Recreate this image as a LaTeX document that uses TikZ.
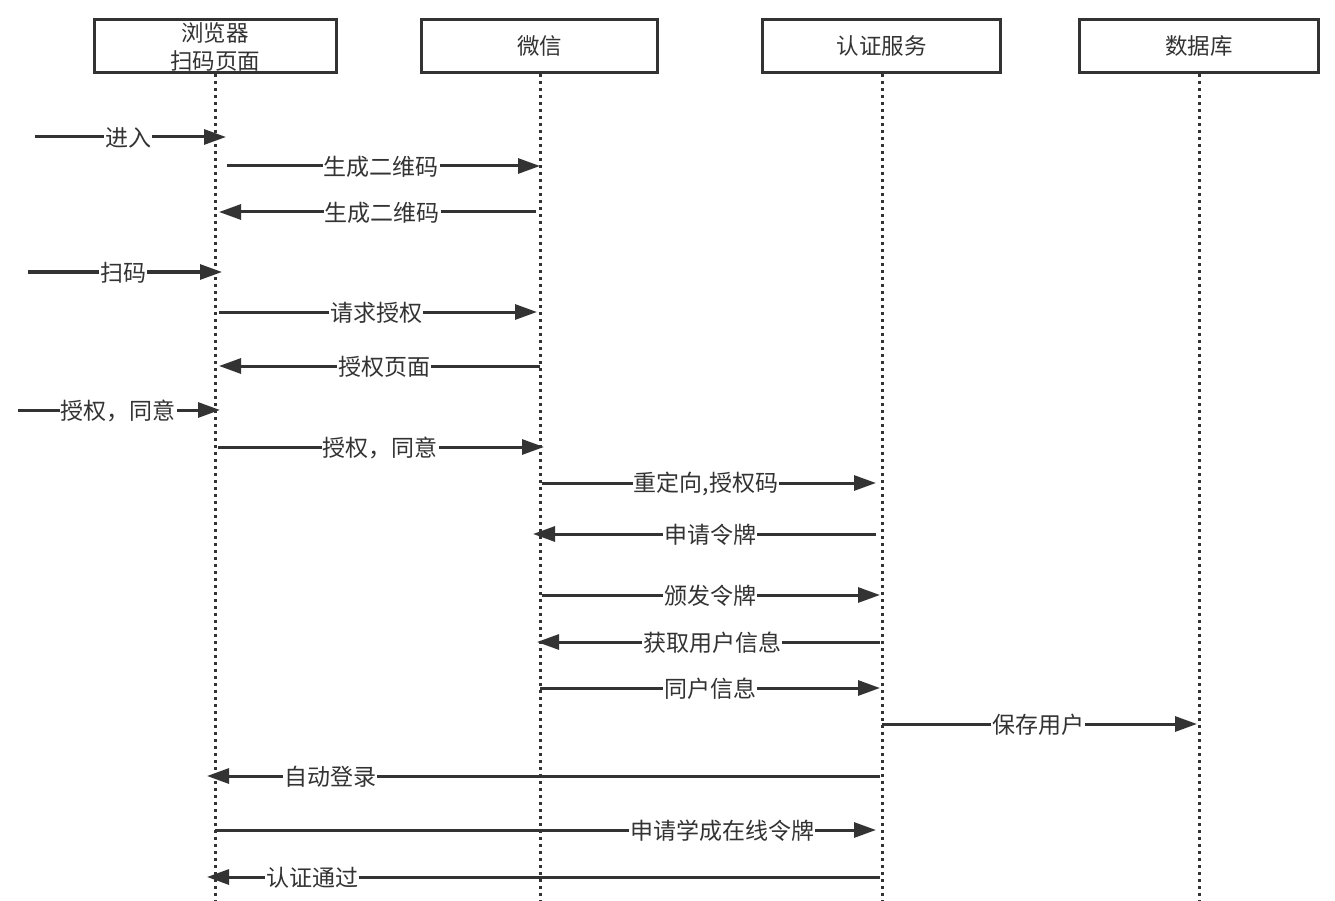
\documentclass[tikz,border=0pt]{standalone}
\usepackage{fontspec}
\setmainfont{Noto Sans CJK SC}
\usetikzlibrary{arrows.meta}
\definecolor{ink}{HTML}{333333}
\tikzset{
  actor/.style={draw=ink, line width=3pt, minimum height=53pt, inner sep=0pt, font=\fontsize{22.5}{27}\selectfont, text=ink, align=center},
  life/.style={draw=ink, line width=3pt, dash pattern=on 3pt off 4pt},
  msg/.style={draw=ink, line width=3pt, -{Triangle[length=22pt,width=15pt]}},
  lbl/.style={fill=white, text=ink, inner sep=1pt, font=\fontsize{23}{26}\selectfont}
}
\begin{document}
\begin{tikzpicture}[x=1pt,y=-1pt]
\useasboundingbox (0,0) rectangle (1335,901);
% actors
\node[actor, minimum width=242pt] (A) at (215.5,46) {\strut};
\node[text=ink, font=\fontsize{22.5}{28}\selectfont, align=center] (At) at (215,47) {浏览器\\扫码页面};
\node[actor, minimum width=236pt] (B) at (539.5,46) {微信};
\node[actor, minimum width=238pt] (C) at (881.5,46) {认证服务};
\node[actor, minimum width=239pt] (D) at (1199,46) {数据库};
% lifelines
\coordinate (Ae) at (215,901);
\coordinate (Be) at (540,901);
\coordinate (Ce) at (882,901);
\coordinate (De) at (1199,901);
\draw[life] (A.south -| 215,0) -- (Ae);
\draw[life] (B.south -| 540,0) -- (Be);
\draw[life] (C.south -| 882,0) -- (Ce);
\draw[life] (D.south -| 1199,0) -- (De);
% message endpoints
\coordinate (m1s) at (35,137);  \coordinate (m1e) at (226,137);
\coordinate (m2s) at (227,166); \coordinate (m2e) at (540,166);
\coordinate (m3s) at (536,212); \coordinate (m3e) at (219,212);
\coordinate (m4s) at (28,272);  \coordinate (m4e) at (222,272);
\coordinate (m5s) at (219,312); \coordinate (m5e) at (537,312);
\coordinate (m6s) at (540,366); \coordinate (m6e) at (219,366);
\coordinate (m7s) at (18,410);  \coordinate (m7e) at (220,410);
\coordinate (m8s) at (218,447); \coordinate (m8e) at (544,447);
\coordinate (m9s) at (542,483); \coordinate (m9e) at (876,483);
\coordinate (m10s) at (876,534); \coordinate (m10e) at (533,534);
\coordinate (m11s) at (542,595); \coordinate (m11e) at (880,595);
\coordinate (m12s) at (880,642); \coordinate (m12e) at (537,642);
\coordinate (m13s) at (540,688); \coordinate (m13e) at (880,688);
\coordinate (m14s) at (882,724); \coordinate (m14e) at (1197,724);
\coordinate (m15s) at (880,776); \coordinate (m15e) at (207,776);
\coordinate (m16s) at (215,830); \coordinate (m16e) at (876,830);
\coordinate (m17s) at (880,877); \coordinate (m17e) at (207,877);
\foreach \i in {1,...,17} { \draw[msg] (m\i s) -- (m\i e); }
% labels
\node[lbl] (l1) at (128,138) {进入};
\node[lbl] (l2) at (381,167) {生成二维码};
\node[lbl] (l3) at (382,213) {生成二维码};
\node[lbl] (l4) at (123,273) {扫码};
\node[lbl] (l5) at (376,313) {请求授权};
\node[lbl] (l6) at (384,367) {授权页面};
\node[lbl] (l7) at (118,411) {授权，同意};
\node[lbl] (l8) at (380,448) {授权，同意};
\node[lbl] (l9) at (706,484) {重定向,授权码};
\node[lbl] (l10) at (710,535) {申请令牌};
\node[lbl] (l11) at (710,596) {颁发令牌};
\node[lbl] (l12) at (712,643) {获取用户信息};
\node[lbl] (l13) at (710,689) {同户信息};
\node[lbl] (l14) at (1038,725) {保存用户};
\node[lbl] (l15) at (330,777) {自动登录};
\node[lbl] (l16) at (722,831) {申请学成在线令牌};
\node[lbl] (l17) at (312,878) {认证通过};
\end{tikzpicture}
\end{document}
